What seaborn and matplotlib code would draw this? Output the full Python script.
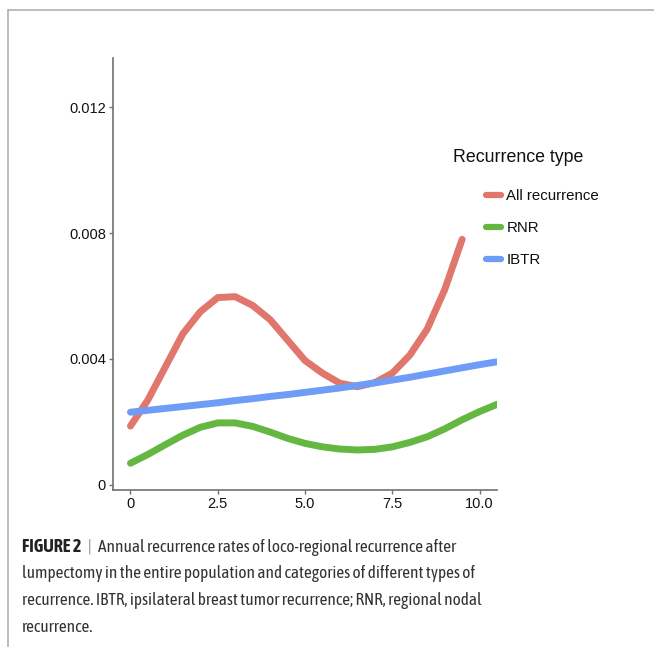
import matplotlib
matplotlib.use("Agg")
import matplotlib.pyplot as plt
from matplotlib import font_manager
import seaborn as sns
import pandas as pd
from matplotlib.lines import Line2D

# values (rate per year)
years = [0, 0.5, 1, 1.5, 2, 2.5, 3, 3.5, 4, 4.5, 5, 5.5, 6, 6.5, 7, 7.5, 8, 8.5, 9, 9.5, 10, 10.5]
all_rec = [1.87, 2.70, 3.75, 4.80, 5.50, 5.95, 5.98, 5.70, 5.25, 4.60, 3.95, 3.55,
           3.23, 3.12, 3.25, 3.55, 4.12, 4.95, 6.20, 7.80]
rnr = [0.69, 0.97, 1.28, 1.58, 1.83, 1.97, 1.97, 1.86, 1.68, 1.48, 1.32, 1.21,
       1.14, 1.11, 1.13, 1.21, 1.35, 1.53, 1.78, 2.07, 2.33, 2.56]
ibtr = [2.31, 2.37, 2.43, 2.49, 2.55, 2.61, 2.68, 2.74, 2.81, 2.87, 2.94, 3.01,
        3.08, 3.16, 3.24, 3.33, 3.42, 3.52, 3.62, 3.72, 3.82, 3.91]

types = ["All recurrence", "RNR", "IBTR"]
colors = ["#E0766C", "#64B842", "#6F9CF7"]

rows = []
for t, vals in zip(types, [all_rec, rnr, ibtr]):
    for x, v in zip(years, vals):
        rows.append({"year": x, "rate": v / 1000, "type": t})
df = pd.DataFrame(rows)

sns.set_style("white")
plt.rcParams["font.family"] = ["Liberation Sans", "DejaVu Sans"]

fig = plt.figure(figsize=(6.54, 6.47), dpi=100)
ax = fig.add_axes([0.1728, 0.2427, 0.5872, 0.6677])

sns.lineplot(data=df, x="year", y="rate", hue="type", hue_order=types,
             palette=dict(zip(types, colors)), linewidth=5, ax=ax,
             legend=False, solid_capstyle="round")

ax.set_xlim(-0.5, 10.5)
ax.set_ylim(-0.00016, 0.01356)
ax.set_xticks([0, 2.5, 5.0, 7.5, 10.0])
ax.set_xticklabels(["0", "2.5", "5.0", "7.5", "10.0"])
ax.set_yticks([0, 0.004, 0.008, 0.012])
ax.set_yticklabels(["0", "0.004", "0.008", "0.012"])
ax.set_xlabel("")
ax.set_ylabel("")
for s in ["top", "right"]:
    ax.spines[s].set_visible(False)
for s in ["left", "bottom"]:
    ax.spines[s].set_color("#707070")
    ax.spines[s].set_linewidth(1.2)
ax.tick_params(axis="both", which="both", length=3, width=1, color="#707070",
               labelsize=10.5, labelcolor="#111111", pad=2, bottom=True, left=True)

# legend: title drawn on its own, entries indented under it
fig.text(453 / 654, 1 - 157 / 647, "Recurrence type", fontsize=12.8,
         color="#111111", va="center", ha="left")
handles = [Line2D([0], [0], color=c, lw=4.5) for c in colors]
leg = fig.legend(handles, types, loc="upper left",
                 bbox_to_anchor=(472 / 654, 1 - 176 / 647), frameon=False,
                 fontsize=10.8, handlelength=1.0, labelspacing=1.2,
                 handletextpad=0.4)
for txt in leg.get_texts():
    txt.set_color("#111111")

# thin frame of the figure panel
fig.add_artist(Line2D([8 / 654, 1], [1 - 10 / 647, 1 - 10 / 647], color="#b0b0b0", lw=1.2))
fig.add_artist(Line2D([8 / 654, 8 / 654], [0, 1 - 10 / 647], color="#b0b0b0", lw=1.2))

# caption (narrow font if one is installed, prefer one with a bold face)
narrow = {}
for f in font_manager.fontManager.ttflist:
    if "Narrow" in f.name or "Condensed" in f.name:
        w = f.weight if isinstance(f.weight, int) else (700 if "bold" in str(f.weight) else 400)
        narrow.setdefault(f.name, set()).add(w)
bold_ok = [n for n, ws in narrow.items() if max(ws) >= 600]
pick = None
if "Liberation Sans Narrow" in narrow:
    pick = "Liberation Sans Narrow"
elif bold_ok:
    pick = sorted(bold_ok)[0]
elif narrow:
    pick = sorted(narrow)[0]
if pick:
    capfont = [pick, "Liberation Sans", "DejaVu Sans"]
    capsize = 12.4
else:
    capfont = ["Liberation Sans", "DejaVu Sans"]
    capsize = 10.4

cap_lines = [
    "Annual recurrence rates of loco-regional recurrence after",
    "lumpectomy in the entire population and categories of different types of",
    "recurrence. IBTR, ipsilateral breast tumor recurrence; RNR, regional nodal",
    "recurrence.",
]
y0 = 1 - 552 / 647
t1 = fig.text(22 / 654, y0, "FIGURE 2", fontsize=capsize + 0.6, fontweight="bold",
              family=capfont, color="#222222", va="baseline")
fig.canvas.draw()
bb = t1.get_window_extent()
x_after = bb.x1 / fig.bbox.width
fig.text(x_after + 6 / 654, y0, "|", fontsize=capsize, family=capfont,
         color="#888888", va="baseline")
fig.text(x_after + 17 / 654, y0, cap_lines[0], fontsize=capsize, family=capfont,
         color="#333333", va="baseline")
for i, line in enumerate(cap_lines[1:], start=1):
    fig.text(22 / 654, y0 - i * 26.5 / 647, line, fontsize=capsize, family=capfont,
             color="#333333", va="baseline")

fig.savefig("out.png", dpi=100)
